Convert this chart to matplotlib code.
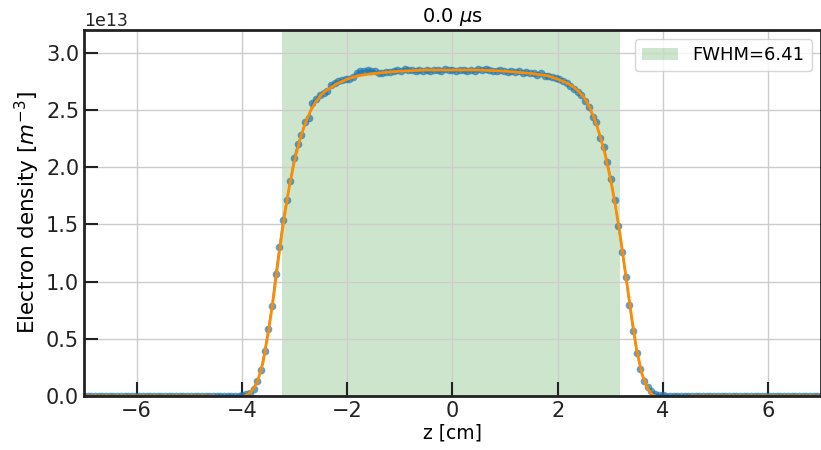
import numpy as np
import matplotlib
matplotlib.use("Agg")
import matplotlib.pyplot as plt

# ---- data (density in units of 1e13 m^-3) ----
z_start, z_stop, n_pts = -7.0, 7.0, 201
density_left_zero = [0.0] * 42
density_core = [
    0.0, 0.005, 0.015, 0.03, 0.065, 0.13, 0.23, 0.39, 0.59, 0.79,
    1.07, 1.30, 1.54, 1.71, 1.88, 2.08, 2.20, 2.28, 2.40, 2.43,
    2.56, 2.60, 2.63, 2.65, 2.67, 2.72, 2.74, 2.75, 2.76, 2.77,
    2.77, 2.79, 2.82, 2.84, 2.84, 2.85, 2.84, 2.84, 2.82, 2.82,
    2.83, 2.83, 2.84, 2.85, 2.84, 2.86, 2.85, 2.85, 2.84, 2.85,
    2.84, 2.85, 2.84, 2.85, 2.85, 2.84, 2.86, 2.85, 2.85,
    2.84, 2.85, 2.85, 2.84, 2.85, 2.84, 2.86, 2.85, 2.86, 2.85,
    2.84, 2.84, 2.85, 2.84, 2.83, 2.84, 2.83, 2.84, 2.82, 2.83,
    2.82, 2.82, 2.81, 2.82, 2.80, 2.80, 2.79, 2.78, 2.77, 2.75,
    2.74, 2.71, 2.68, 2.66, 2.63, 2.58, 2.53, 2.44, 2.40, 2.26,
    2.18, 2.05, 1.90, 1.71, 1.49, 1.26, 1.04, 0.80, 0.57, 0.38,
    0.24, 0.13, 0.075, 0.04, 0.02, 0.012, 0.005, 0.0,
]
density_right_zero = [0.0] * (n_pts - 42 - len(density_core))
density = density_left_zero + density_core + density_right_zero

fit_z = [-7.0, -4.6, -4.2, -4.0, -3.9, -3.8, -3.7, -3.6, -3.5, -3.4, -3.3,
         -3.2, -3.1, -3.0, -2.9, -2.8, -2.7, -2.6, -2.5, -2.4, -2.3, -2.2,
         -2.0, -1.8, -1.5, -1.0, -0.5, 0.0, 0.5, 1.0, 1.5, 1.8, 2.0, 2.2,
         2.3, 2.4, 2.5, 2.6, 2.7, 2.8, 2.9, 3.0, 3.1, 3.2, 3.3, 3.4, 3.5,
         3.6, 3.7, 3.8, 3.9, 4.2, 4.6, 7.0]
fit_v = [0.0, 0.0, -0.01, -0.01, 0.01, 0.05, 0.13, 0.29, 0.55, 0.86, 1.22,
         1.55, 1.83, 2.06, 2.24, 2.38, 2.49, 2.57, 2.63, 2.67, 2.70, 2.73,
         2.77, 2.80, 2.82, 2.84, 2.85, 2.85, 2.85, 2.84, 2.82, 2.80, 2.77, 2.73,
         2.70, 2.66, 2.61, 2.53, 2.42, 2.28, 2.11, 1.90, 1.65, 1.36, 1.03, 0.70, 0.40,
         0.19, 0.07, 0.01, -0.01, -0.01, 0.0, 0.0]

fwhm_left, fwhm_right = -3.23, 3.18
fwhm_label = "FWHM=6.41"
title = "0.0 $\\mu$s"
scale = 1e13

z = np.linspace(z_start, z_stop, n_pts)
dens = np.array(density) * scale
fit = np.array(fit_v) * scale

fig = plt.figure(figsize=(8.21, 4.5), dpi=100)
ax = fig.add_axes([0.1023, 0.12, 0.8977, 0.8133])

ax.axvspan(fwhm_left, fwhm_right, color="g", alpha=0.2, lw=0, label=fwhm_label, zorder=1)
ax.plot(z, dens, "o-", color="#1f77b4", ms=5.5, lw=1.2, alpha=0.7, mec="none", zorder=2)
ax.plot(fit_z, fit, "-", color="#ff8c00", lw=2, zorder=2.1)

ax.set_xlim(-7, 7)
ax.set_ylim(0, 3.2e13)
ax.set_axisbelow("line")
ax.grid(True, color="#cccccc", lw=1)
ax.tick_params(direction="in", length=10, width=1.5, labelsize=15, colors="#222222")
for s in ax.spines.values():
    s.set_linewidth(2)
    s.set_color("#222222")
    s.set_zorder(3)
ax.yaxis.get_offset_text().set_fontsize(12.5)
ax.set_xlabel("z [cm]", fontsize=13.5, labelpad=2)
ax.set_ylabel("Electron density [$m^{-3}$]", fontsize=15.5, labelpad=3)
ax.set_title(title, fontsize=14, pad=6)
ax.legend(loc="upper right", fontsize=13)

fig.savefig("out.png", dpi=100)
